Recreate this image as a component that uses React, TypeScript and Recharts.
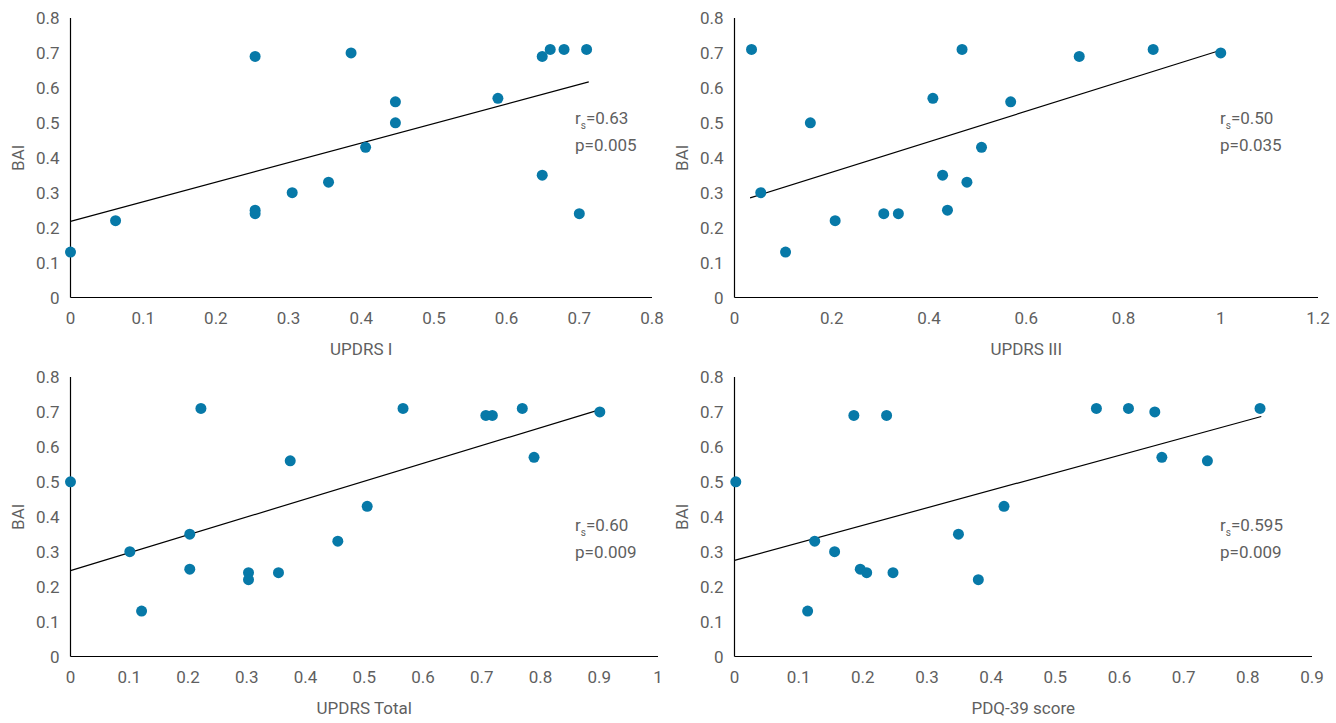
import React from 'react';
import { Label, Scatter, ScatterChart, XAxis, YAxis } from 'recharts';

// values, one pair of arrays per panel
const UPDRS1_X = [0, 0.062, 0.254, 0.254, 0.254, 0.305, 0.355, 0.386, 0.406, 0.447, 0.447, 0.588, 0.649, 0.66, 0.679, 0.71, 0.649, 0.7];
const UPDRS1_BAI = [0.13, 0.22, 0.69, 0.25, 0.24, 0.3, 0.33, 0.7, 0.43, 0.56, 0.5, 0.57, 0.69, 0.71, 0.71, 0.71, 0.35, 0.24];

const UPDRS3_X = [0.035, 0.054, 0.105, 0.156, 0.207, 0.307, 0.337, 0.408, 0.428, 0.438, 0.468, 0.478, 0.508, 0.568, 0.709, 0.861, 1.0];
const UPDRS3_BAI = [0.71, 0.3, 0.13, 0.5, 0.22, 0.24, 0.24, 0.57, 0.35, 0.25, 0.71, 0.33, 0.43, 0.56, 0.69, 0.71, 0.7];

const TOTAL_X = [0, 0.101, 0.121, 0.203, 0.203, 0.222, 0.303, 0.303, 0.354, 0.374, 0.455, 0.505, 0.566, 0.707, 0.718, 0.769, 0.789, 0.901];
const TOTAL_BAI = [0.5, 0.3, 0.13, 0.35, 0.25, 0.71, 0.24, 0.22, 0.24, 0.56, 0.33, 0.43, 0.71, 0.69, 0.69, 0.71, 0.57, 0.7];

const PDQ_X = [0.002, 0.114, 0.125, 0.156, 0.186, 0.196, 0.206, 0.237, 0.247, 0.349, 0.38, 0.42, 0.564, 0.614, 0.655, 0.666, 0.737, 0.819];
const PDQ_BAI = [0.5, 0.13, 0.33, 0.3, 0.69, 0.25, 0.24, 0.69, 0.24, 0.35, 0.22, 0.43, 0.71, 0.71, 0.7, 0.57, 0.56, 0.71];

// trend line end points
const TREND1_X = [0, 0.713];
const TREND1_Y = [0.218, 0.617];
const TREND3_X = [0.032, 1.003];
const TREND3_Y = [0.285, 0.709];
const TRENDT_X = [0, 0.904];
const TRENDT_Y = [0.246, 0.708];
const TRENDP_X = [0, 0.821];
const TRENDP_Y = [0.275, 0.687];

const Y_TICKS = [0, 0.1, 0.2, 0.3, 0.4, 0.5, 0.6, 0.7, 0.8];
const X_TICKS_08 = [0, 0.1, 0.2, 0.3, 0.4, 0.5, 0.6, 0.7, 0.8];
const X_TICKS_12 = [0, 0.2, 0.4, 0.6, 0.8, 1, 1.2];
const X_TICKS_10 = [0, 0.1, 0.2, 0.3, 0.4, 0.5, 0.6, 0.7, 0.8, 0.9, 1];
const X_TICKS_09 = [0, 0.1, 0.2, 0.3, 0.4, 0.5, 0.6, 0.7, 0.8, 0.9];

const DOT = '#0779a8';
const TEXT = '#5f5f5f';
const FONT = 'Roboto, sans-serif';

const toPoints = (xs: number[], ys: number[]) => xs.map((x, i) => ({ x, y: ys[i] }));

interface PanelProps {
  left: number;
  top: number;
  height: number;
  plotLeft: number;
  plotRight: number;
  plotTop: number;
  plotBottom: number;
  xMax: number;
  xTicks: number[];
  xTitle: string;
  xs: number[];
  ys: number[];
  tx: number[];
  ty: number[];
  rs: string;
  p: string;
  noteX: number;
  noteY: number;
  baiX: number;
}

function Panel(props: PanelProps) {
  const width = 668;
  const points = toPoints(props.xs, props.ys);
  const trend = toPoints(props.tx, props.ty);
  const axisLine = { stroke: '#000', strokeWidth: 1.2 };
  const tick = { fill: TEXT, fontSize: 17, fontFamily: FONT };

  return (
    <div style={{ position: 'absolute', left: props.left, top: props.top }}>
      <ScatterChart
        width={width}
        height={props.height}
        margin={{ top: props.plotTop, right: width - props.plotRight, bottom: 0, left: 0 }}
      >
        <XAxis
          type="number"
          dataKey="x"
          domain={[0, props.xMax]}
          ticks={props.xTicks}
          interval={0}
          tickLine={false}
          tickMargin={8}
          axisLine={axisLine}
          tick={tick}
          height={props.height - props.plotBottom}
        >
          <Label
            content={({ viewBox }: any) => (
              <text
                x={viewBox.x + viewBox.width / 2}
                y={viewBox.y + 57}
                textAnchor="middle"
                fill={TEXT}
                fontSize={17}
                fontFamily={FONT}
              >
                {props.xTitle}
              </text>
            )}
          />
        </XAxis>
        <YAxis
          type="number"
          dataKey="y"
          domain={[0, 0.8]}
          ticks={Y_TICKS}
          interval={0}
          tickLine={false}
          tickMargin={5}
          axisLine={axisLine}
          tick={tick}
          width={props.plotLeft}
        >
          <Label
            content={({ viewBox }: any) => {
              const cy = viewBox.y + viewBox.height / 2;
              return (
                <text
                  x={props.baiX}
                  y={cy}
                  transform={`rotate(-90 ${props.baiX} ${cy})`}
                  textAnchor="middle"
                  dominantBaseline="central"
                  fill={TEXT}
                  fontSize={17}
                  fontFamily={FONT}
                >
                  BAI
                </text>
              );
            }}
          />
        </YAxis>
        <Scatter
          data={trend}
          line={{ stroke: '#000', strokeWidth: 1.2 }}
          shape={() => <g />}
          isAnimationActive={false}
        />
        <Scatter
          data={points}
          shape={(s: any) => <circle cx={s.cx} cy={s.cy} r={5.5} fill={DOT} />}
          isAnimationActive={false}
        />
        <text x={props.noteX} y={props.noteY} fill={TEXT} fontSize={17} fontFamily={FONT}>
          r
          <tspan fontSize={10} dy={5}>s</tspan>
          <tspan dy={-5}>={props.rs}</tspan>
        </text>
        <text x={props.noteX} y={props.noteY + 27} fill={TEXT} fontSize={17} fontFamily={FONT}>
          p={props.p}
        </text>
      </ScatterChart>
    </div>
  );
}

export default function App() {
  return (
    <div style={{ position: 'absolute', left: 0, top: 0, width: 1336, height: 723, background: '#fff' }}>
      <Panel
        left={0} top={0} height={360}
        plotLeft={70.5} plotRight={652} plotTop={18} plotBottom={297.5}
        xMax={0.8} xTicks={X_TICKS_08} xTitle="UPDRS I"
        xs={UPDRS1_X} ys={UPDRS1_BAI} tx={TREND1_X} ty={TREND1_Y}
        rs="0.63" p="0.005" noteX={575} noteY={124} baiX={18}
      />
      <Panel
        left={668} top={0} height={360}
        plotLeft={66.5} plotRight={650} plotTop={18} plotBottom={297.5}
        xMax={1.2} xTicks={X_TICKS_12} xTitle="UPDRS III"
        xs={UPDRS3_X} ys={UPDRS3_BAI} tx={TREND3_X} ty={TREND3_Y}
        rs="0.50" p="0.035" noteX={552} noteY={124} baiX={14}
      />
      <Panel
        left={0} top={360} height={363}
        plotLeft={70.5} plotRight={658} plotTop={17} plotBottom={296.5}
        xMax={1} xTicks={X_TICKS_10} xTitle="UPDRS Total"
        xs={TOTAL_X} ys={TOTAL_BAI} tx={TRENDT_X} ty={TRENDT_Y}
        rs="0.60" p="0.009" noteX={575} noteY={171} baiX={18}
      />
      <Panel
        left={668} top={360} height={363}
        plotLeft={66.5} plotRight={644} plotTop={17} plotBottom={296.5}
        xMax={0.9} xTicks={X_TICKS_09} xTitle="PDQ-39 score"
        xs={PDQ_X} ys={PDQ_BAI} tx={TRENDP_X} ty={TRENDP_Y}
        rs="0.595" p="0.009" noteX={552} noteY={171} baiX={14}
      />
    </div>
  );
}
